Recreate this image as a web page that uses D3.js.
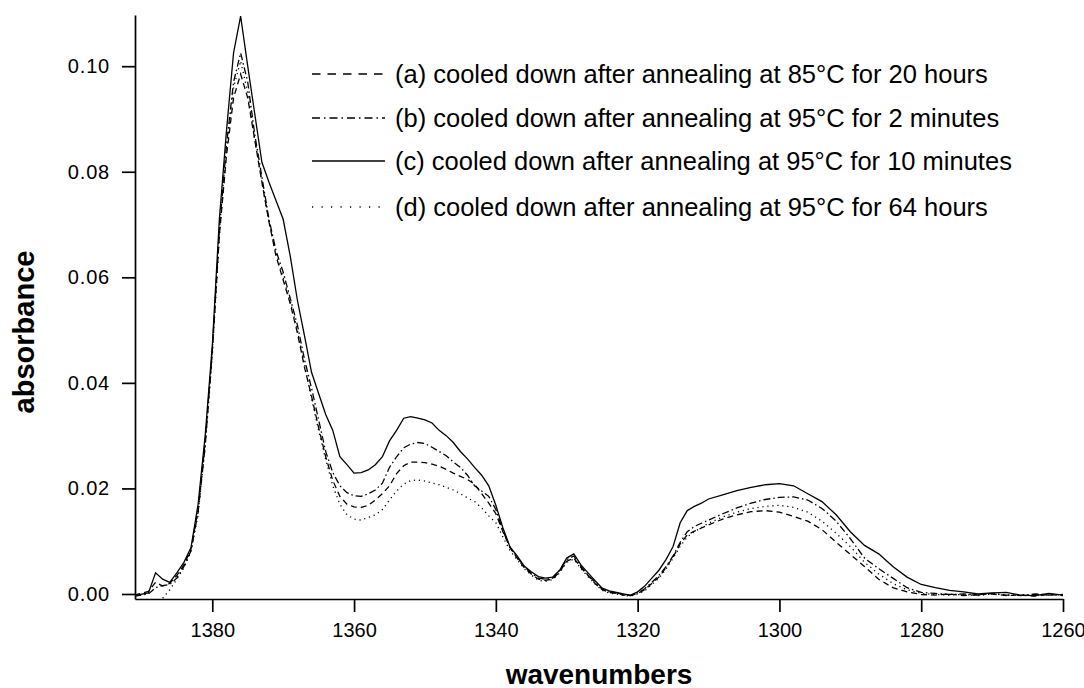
<!DOCTYPE html>
<html>
<head>
<meta charset="utf-8">
<script src="https://cdn.jsdelivr.net/npm/d3@7"></script>
<style>
  html, body { margin: 0; padding: 0; background: #fff; }
  svg { display: block; font-family: "Liberation Sans", Arial, Helvetica, sans-serif; }
</style>
</head>
<body>
<svg id="chart" width="1084" height="688"></svg>
<script>
// ---- data ----
const wavenumbers = [1391,1389,1388,1387,1386,1385,1384,1383,1382,1381,1380,1379,1378,1377,1376,1375,1374,1373,1372,1371,1370,1369,1368,1367,1366,1365,1364,1363,1362,1361,1360,1359,1358,1357,1356,1355,1354,1353,1352,1351,1350,1349,1348,1347,1346,1345,1344,1343,1342,1341,1340,1339,1338,1337,1336,1335,1334,1333,1332,1331,1330,1329,1328,1327,1326,1325,1324,1323,1322,1321,1320,1319,1318,1317,1316,1315,1314,1313,1312,1311,1310,1308,1306,1304,1302,1300,1298,1296,1294,1292,1290,1288,1286,1284,1282,1280,1278,1276,1274,1272,1270,1268,1266,1264,1262,1260];

const seriesA = [-0.0002,0.0005,0.0022,0.0015,0.002,0.0035,0.0055,0.0085,0.016,0.029,0.046,0.068,0.083,0.094,0.0985,0.094,0.086,0.078,0.0705,0.064,0.0595,0.055,0.0495,0.043,0.0375,0.0315,0.026,0.0215,0.0185,0.017,0.0165,0.0164,0.0168,0.0178,0.019,0.0205,0.0228,0.0243,0.025,0.025,0.0249,0.0246,0.0242,0.0236,0.0229,0.0223,0.0217,0.0208,0.019,0.0172,0.0152,0.0118,0.0088,0.0068,0.005,0.0038,0.0028,0.0026,0.0028,0.0042,0.0062,0.0068,0.005,0.0035,0.002,0.0008,0.0003,0.0001,-0.0002,-0.0003,0.0001,0.0008,0.002,0.0032,0.005,0.007,0.0095,0.0112,0.0119,0.0125,0.0131,0.0142,0.015,0.0156,0.0158,0.0155,0.0147,0.0138,0.0122,0.0098,0.0075,0.0052,0.0028,0.0012,0.0004,-0.0001,-0.0002,0.0,-0.0003,-0.0001,0.0,-0.0003,-0.0002,-0.0004,-0.0001,-0.0003];

const seriesB = [-0.0004,0.0,0.0012,0.0016,0.0018,0.003,0.0052,0.0082,0.0155,0.028,0.046,0.069,0.085,0.097,0.1025,0.097,0.087,0.079,0.071,0.065,0.061,0.056,0.051,0.0445,0.039,0.033,0.027,0.023,0.0205,0.0192,0.0186,0.0185,0.019,0.0197,0.021,0.024,0.026,0.0277,0.0284,0.0287,0.0285,0.0278,0.027,0.0262,0.025,0.024,0.0225,0.0205,0.0195,0.0185,0.016,0.012,0.0088,0.007,0.0052,0.004,0.003,0.0028,0.003,0.0045,0.0065,0.0072,0.0052,0.0036,0.0022,0.0009,0.0004,0.0002,-0.0001,-0.0003,0.0002,0.001,0.0022,0.0035,0.0052,0.0072,0.0098,0.0118,0.0128,0.0134,0.014,0.0152,0.0163,0.0172,0.0179,0.0183,0.0184,0.0178,0.0162,0.0138,0.0105,0.0068,0.0048,0.003,0.0012,0.0003,0.0001,-0.0001,0.0,-0.0002,0.0001,-0.0002,-0.0003,0.0,-0.0002,-0.0001];

const seriesC = [-0.0003,0.0002,0.004,0.0028,0.0022,0.004,0.006,0.0088,0.017,0.030,0.047,0.071,0.0877,0.1025,0.1095,0.100,0.0909,0.0818,0.078,0.0745,0.071,0.064,0.0557,0.049,0.042,0.038,0.034,0.031,0.026,0.0245,0.0229,0.023,0.0235,0.0245,0.026,0.029,0.031,0.0333,0.0336,0.0333,0.033,0.0324,0.031,0.030,0.0287,0.027,0.0256,0.024,0.0225,0.0205,0.0168,0.0125,0.0089,0.0072,0.0053,0.0042,0.0033,0.003,0.0032,0.0045,0.0068,0.0076,0.0055,0.004,0.0025,0.0011,0.0006,0.0003,0.0,-0.0002,0.0004,0.0015,0.003,0.0045,0.0065,0.009,0.0135,0.0158,0.0166,0.0172,0.018,0.0188,0.0196,0.0202,0.0207,0.0209,0.0205,0.019,0.0175,0.015,0.0118,0.0092,0.0076,0.0052,0.0032,0.0018,0.0012,0.0007,0.0004,0.0,0.0002,0.0003,-0.0002,-0.0003,0.0001,-0.0002];

const seriesD = [null,null,null,-0.0008,0.0008,0.0028,0.005,0.008,0.015,0.028,0.045,0.068,0.084,0.096,0.101,0.095,0.086,0.078,0.0705,0.0645,0.06,0.0555,0.05,0.0435,0.037,0.031,0.0255,0.0205,0.017,0.015,0.0142,0.014,0.0145,0.015,0.016,0.0178,0.0195,0.0208,0.0215,0.0216,0.0214,0.021,0.0207,0.0202,0.0197,0.019,0.0182,0.0175,0.0163,0.0148,0.0135,0.0108,0.0082,0.0065,0.0048,0.0036,0.0026,0.0024,0.0027,0.004,0.006,0.0066,0.0048,0.0033,0.0019,0.0007,0.0002,0.0,-0.0003,-0.0004,0.0,0.0006,0.0018,0.003,0.0047,0.0068,0.009,0.0108,0.0118,0.0126,0.0134,0.0146,0.0155,0.0162,0.0166,0.0168,0.0164,0.0155,0.0138,0.0115,0.009,0.006,0.0038,0.002,0.0008,0.0001,-0.0001,-0.0002,-0.0001,-0.0003,0.0,-0.0002,-0.0001,-0.0003,0.0,-0.0002];

const legendLabels = [
  "(a) cooled down after annealing at 85\u00B0C for 20 hours",
  "(b) cooled down after annealing at 95\u00B0C for 2 minutes",
  "(c) cooled down after annealing at 95\u00B0C for 10 minutes",
  "(d) cooled down after annealing at 95\u00B0C for 64 hours"
];
const xTickValues = [1380, 1360, 1340, 1320, 1300, 1280, 1260];
const yTickValues = [0.00, 0.02, 0.04, 0.06, 0.08, 0.10];
const xDomain = [1390.9, 1260];
const yDomain = [-0.00095, 0.1097];

// ---- layout ----
const svg = d3.select("#chart");
const mLeft = 135, mRight = 1063, mTop = 15, mBottom = 599;

const x = d3.scaleLinear().domain(xDomain).range([mLeft, mRight]);
const y = d3.scaleLinear().domain(yDomain).range([mBottom, mTop]);

const plotDashes = ["6,4", "7,3,1.5,3", null, "1.2,3.8"];
const legendDashes = ["8.5,7", "8,4,1.5,4", null, "1.2,8.3"];
const allSeries = [seriesA, seriesB, seriesC, seriesD];

svg.append("defs").append("clipPath").attr("id", "plotclip")
  .append("rect").attr("x", mLeft).attr("y", mTop - 5).attr("width", mRight - mLeft + 2).attr("height", mBottom - mTop + 5);

const line = d3.line()
  .defined(d => d[1] != null)
  .x(d => x(d[0]))
  .y(d => y(d[1]));

const plot = svg.append("g").attr("clip-path", "url(#plotclip)");
allSeries.forEach((vals, i) => {
  const pts = wavenumbers.map((w, j) => [w, vals[j]]);
  plot.append("path")
    .datum(pts)
    .attr("d", line)
    .attr("fill", "none")
    .attr("stroke", "#000")
    .attr("stroke-width", 1.3)
    .attr("stroke-dasharray", plotDashes[i]);
});

// axes
const xAxis = d3.axisBottom(x).tickValues(xTickValues).tickSize(13).tickSizeOuter(0).tickPadding(11)
  .tickFormat(d3.format("d"));
const gx = svg.append("g").attr("transform", `translate(0,${mBottom})`).call(xAxis);
gx.select(".domain").attr("stroke-width", 1.7);
gx.selectAll(".tick line").attr("stroke-width", 1.7);
gx.selectAll(".tick text").attr("font-size", 20).attr("fill", "#000").attr("font-family", "Liberation Sans, Arial, sans-serif");

const yAxis = d3.axisLeft(y).tickValues(yTickValues).tickSize(13).tickSizeOuter(0).tickPadding(12)
  .tickFormat(d3.format(".2f"));
const gy = svg.append("g").attr("transform", `translate(${mLeft},0)`).call(yAxis);
gy.select(".domain").attr("stroke-width", 1.7);
gy.selectAll(".tick line").attr("stroke-width", 1.7);
gy.selectAll(".tick text").attr("font-size", 20).attr("letter-spacing", "0.8px").attr("fill", "#000").attr("font-family", "Liberation Sans, Arial, sans-serif");

// axis titles
svg.append("text")
  .attr("transform", "translate(34,332) rotate(-90)")
  .attr("text-anchor", "middle")
  .attr("font-size", 29).attr("font-weight", "bold")
  .text("absorbance");
svg.append("text")
  .attr("x", 599).attr("y", 684)
  .attr("text-anchor", "middle")
  .attr("font-size", 28).attr("font-weight", "bold")
  .text("wavenumbers");

// legend
const legendY = [74, 118, 161, 207];
const lg = svg.append("g");
legendLabels.forEach((lab, i) => {
  lg.append("line")
    .attr("x1", 312).attr("x2", 385)
    .attr("y1", legendY[i]).attr("y2", legendY[i])
    .attr("stroke", "#000").attr("stroke-width", 1.3)
    .attr("stroke-dasharray", legendDashes[i]);
  lg.append("text")
    .attr("x", 395).attr("y", legendY[i]).attr("dy", "0.35em")
    .attr("font-size", 25.5)
    .text(lab);
});
</script>
</body>
</html>
